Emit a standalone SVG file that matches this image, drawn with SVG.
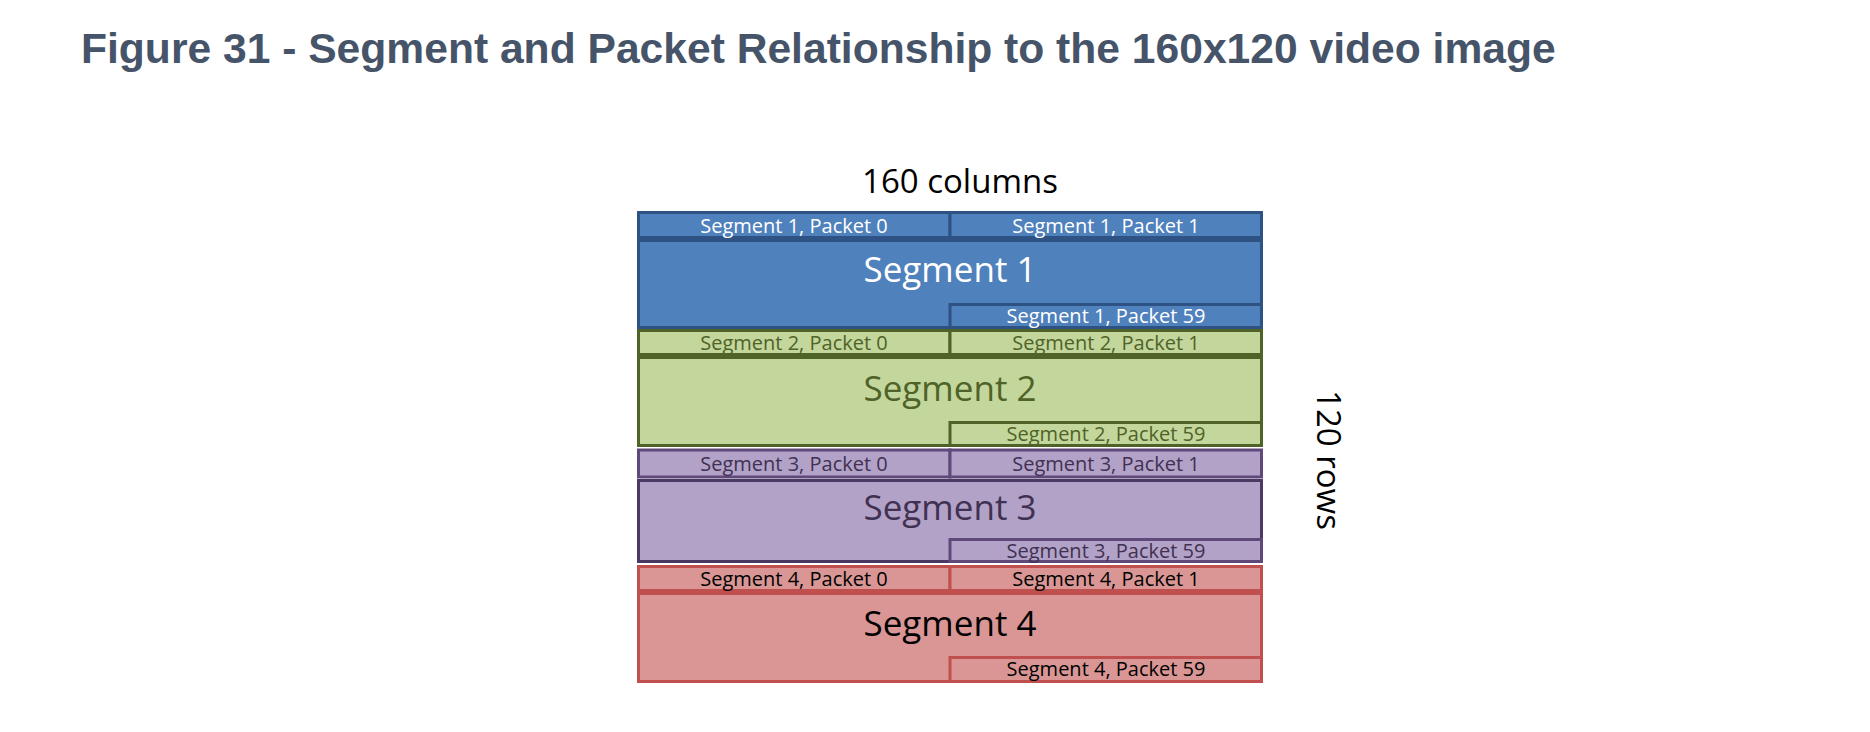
<svg xmlns="http://www.w3.org/2000/svg" width="1870" height="732" viewBox="0 0 1870 732">
<style>
  .title { font-family: "Liberation Sans", Arial, sans-serif; font-weight: bold; font-size: 42.6px; fill: #465469; }
  .lbl { font-family: "Open Sans", "Noto Sans", sans-serif; text-anchor: middle; }
  .axis { font-size: 33px; fill: #000000; }
  .pk { font-size: 20px; }
  .big { font-size: 35px; }
  rect { stroke-width: 3; }
  .s1 rect { fill: #4f81bd; stroke: #2e5283; }
  .s1 text { fill: #ffffff; }
  .s2 rect { fill: #c3d69b; stroke: #4f6228; }
  .s2 text { fill: #4f6228; }
  .s3 rect { fill: #b2a2c7; stroke: #5f497a; }
  .s3 rect.main { stroke: #4a3a63; }
  .s3 text { fill: #403152; }
  .s4 rect { fill: #d99694; stroke: #c0504d; }
  .s4 text { fill: #000000; }
</style>
<rect x="0" y="0" width="1870" height="732" fill="#ffffff" stroke="none"/>
<text class="title" x="81" y="63">Figure 31 - Segment and Packet Relationship to the 160x120 video image</text>
<text class="lbl axis" x="960" y="193">160 columns</text>
<text class="lbl axis" transform="translate(1317,460) rotate(90)" x="0" y="0">120 rows</text>

<g id="segment-1" class="s1">
  <rect class="main" x="638.5" y="240.5" width="623" height="87"/>
  <g id="seg1-packet0"><rect x="638.5" y="212.5" width="311.5" height="25"/><text class="lbl pk" x="794" y="232.5">Segment 1, Packet 0</text></g>
  <g id="seg1-packet1"><rect x="950" y="212.5" width="311.5" height="25"/><text class="lbl pk" x="1106" y="232.5">Segment 1, Packet 1</text></g>
  <text class="lbl big" x="950" y="281.5">Segment 1</text>
  <g id="seg1-packet59"><rect x="950" y="304.5" width="311.5" height="23"/><text class="lbl pk" x="1106" y="323">Segment 1, Packet 59</text></g>
</g>

<g id="segment-2" class="s2">
  <rect class="main" x="638.5" y="357.5" width="623" height="88"/>
  <g id="seg2-packet0"><rect x="638.5" y="330.5" width="311.5" height="24"/><text class="lbl pk" x="794" y="350">Segment 2, Packet 0</text></g>
  <g id="seg2-packet1"><rect x="950" y="330.5" width="311.5" height="24"/><text class="lbl pk" x="1106" y="350">Segment 2, Packet 1</text></g>
  <text class="lbl big" x="950" y="400.5">Segment 2</text>
  <g id="seg2-packet59"><rect x="950" y="422.5" width="311.5" height="23"/><text class="lbl pk" x="1106" y="441">Segment 2, Packet 59</text></g>
</g>

<g id="segment-3" class="s3">
  <rect class="main" x="638.5" y="480.5" width="623" height="81"/>
  <g id="seg3-packet0"><rect x="638.5" y="450" width="311.5" height="27"/><text class="lbl pk" x="794" y="471">Segment 3, Packet 0</text></g>
  <g id="seg3-packet1"><rect x="950" y="450" width="311.5" height="27"/><text class="lbl pk" x="1106" y="471">Segment 3, Packet 1</text></g>
  <text class="lbl big" x="950" y="520">Segment 3</text>
  <g id="seg3-packet59"><rect x="950" y="539.5" width="311.5" height="22"/><text class="lbl pk" x="1106" y="557.5">Segment 3, Packet 59</text></g>
</g>

<g id="segment-4" class="s4">
  <rect class="main" x="638.5" y="593.5" width="623" height="88"/>
  <g id="seg4-packet0"><rect x="638.5" y="566.5" width="311.5" height="24"/><text class="lbl pk" x="794" y="585.5">Segment 4, Packet 0</text></g>
  <g id="seg4-packet1"><rect x="950" y="566.5" width="311.5" height="24"/><text class="lbl pk" x="1106" y="585.5">Segment 4, Packet 1</text></g>
  <text class="lbl big" x="950" y="635.5">Segment 4</text>
  <g id="seg4-packet59"><rect x="950" y="657.5" width="311.5" height="24"/><text class="lbl pk" x="1106" y="676">Segment 4, Packet 59</text></g>
</g>
</svg>
